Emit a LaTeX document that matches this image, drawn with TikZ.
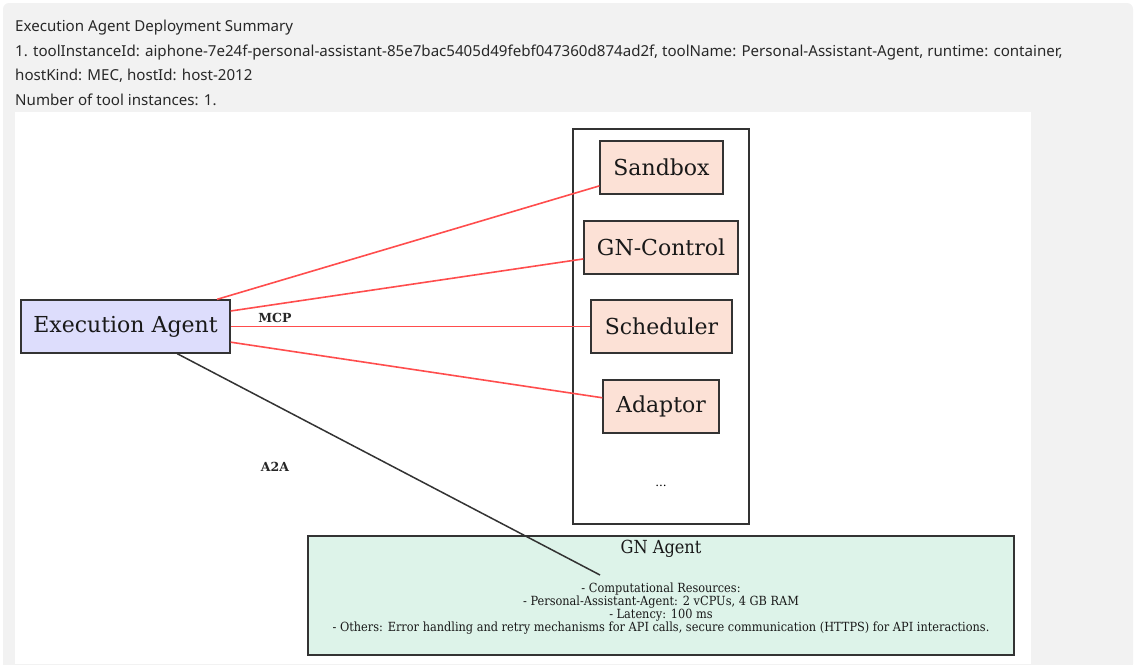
\documentclass[tikz,border=0pt]{standalone}
\usepackage{fontspec}
\setmainfont{DejaVu Serif}
\newfontfamily\uifont{Noto Sans}
\newfontfamily\gnfont[FakeStretch=0.9]{DejaVu Serif}
\usetikzlibrary{positioning}

\definecolor{panelgray}{RGB}{242,242,242}
\definecolor{uitext}{RGB}{40,40,40}
\definecolor{boxline}{RGB}{51,51,51}
\definecolor{agentfill}{RGB}{221,221,252}
\definecolor{toolfill}{RGB}{252,225,214}
\definecolor{gnfill}{RGB}{221,243,233}
\definecolor{mcpred}{RGB}{255,77,77}
\definecolor{a2aline}{RGB}{51,51,51}

\tikzset{
  uiline/.style={anchor=base west, inner sep=0pt, text=uitext,
    font=\uifont\fontsize{15.1}{18}\selectfont},
  box/.style={draw=boxline, line width=1.3pt, inner sep=0pt, text=black!90},
  agentbox/.style={box, fill=agentfill, font=\fontsize{22}{26}\selectfont},
  toolbox/.style={box, fill=toolfill, font=\fontsize{22}{26}\selectfont},
  clusterbox/.style={draw=boxline, line width=1.3pt, inner sep=0pt},
  gnbox/.style={box, fill=gnfill},
  mcpedge/.style={draw=mcpred, line width=1.6pt},
  a2aedge/.style={draw=a2aline, line width=1.5pt},
  edgelabel/.style={inner sep=0pt, text=black!85,
    font=\bfseries\fontsize{12.5}{14}\selectfont},
}

\begin{document}
\begin{tikzpicture}[x=1pt, y=-1pt]
  \useasboundingbox (0,0) rectangle (1137,664);

  % page panel and the white drawing area
  \fill[panelgray, rounded corners=6pt] (3,3) rectangle (1133,670);
  \fill[white] (15,112) rectangle (1031,664);

  % summary header
  \node[uiline] (h1) at (15,31)  {Execution Agent Deployment Summary};
  \node[uiline] (h2) at (15,56)  {1. toolInstanceId: aiphone-7e24f-personal-assistant-85e7bac5405d49febf047360d874ad2f, toolName: Personal-Assistant-Agent, runtime: container,};
  \node[uiline] (h3) at (15,80)  {hostKind: MEC, hostId: host-2012};
  \node[uiline] (h4) at (15,105) {Number of tool instances: 1.};

  % tool cluster
  \node[clusterbox, minimum width=176pt, minimum height=395pt] (cluster) at (661,326.5) {};
  \node[toolbox, minimum width=123pt, minimum height=53pt] (sandbox)   at (661.5,167.5) {Sandbox};
  \node[toolbox, minimum width=154pt, minimum height=53pt] (gncontrol) at (661,247.5)   {GN-Control};
  \node[toolbox, minimum width=141pt, minimum height=53pt] (scheduler) at (661.5,326.5) {Scheduler};
  \node[toolbox, minimum width=116pt, minimum height=53pt] (adaptor)   at (661,406.5)   {Adaptor};
  \node[inner sep=0pt, font=\fontsize{12}{14}\selectfont] (more) at (661,486) {...};

  % agents
  \node[agentbox, minimum width=209pt, minimum height=53pt] (exec) at (125.5,326.5) {Execution Agent};
  \node[gnbox, minimum width=706pt, minimum height=119pt] (gn) at (661,595.5) {};
  \node[inner sep=0pt, text=black!90, font=\gnfont\fontsize{18}{21}\selectfont] (gntitle) at (661,549) {GN Agent};
  \node[inner sep=0pt, align=center, text=black!90, font=\gnfont\fontsize{12.6}{13}\selectfont] (gntext) at (661,608.5)
    {- Computational Resources:\\
     - Personal-Assistant-Agent: 2 vCPUs, 4 GB RAM\\
     - Latency: 100 ms\\
     - Others: Error handling and retry mechanisms for API calls, secure communication (HTTPS) for API interactions.};

  % MCP connections
  \draw[mcpedge] (exec) -- (sandbox);
  \draw[mcpedge] (exec) -- (gncontrol);
  \draw[mcpedge] (exec) -- (scheduler);
  \draw[mcpedge] (exec) -- (adaptor);
  \node[edgelabel] (mcp) at (275,318) {MCP};

  % A2A connection
  \coordinate (a2aend) at (600,575);
  \draw[a2aedge] (exec) -- (a2aend);
  \node[edgelabel] (a2a) at (275,467) {A2A};
\end{tikzpicture}
\end{document}
